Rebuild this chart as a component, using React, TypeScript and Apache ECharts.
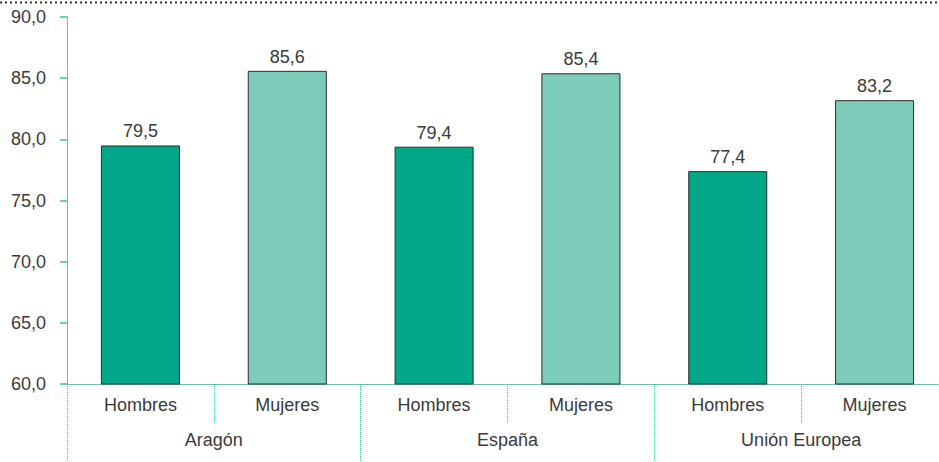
import React, { useEffect, useRef } from "react";
import * as echarts from "echarts";

const groups = ["Aragón", "España", "Unión Europea"];
const sexes = ["Hombres", "Mujeres"];
const hombres = [79.5, 79.4, 77.4];
const mujeres = [85.6, 85.4, 83.2];
const yTicks = { min: 60, max: 90, interval: 5 };

const colorH = "#00a887";
const colorM = "#7dccba";
const teal = "#3dbd9e";
const textColor = "#3a3a3a";
const font = "'Liberation Sans', Arial, sans-serif";
const fs = 18;

export default function App() {
  const ref = useRef<HTMLDivElement>(null);
  useEffect(() => {
    document.body.style.margin = "0";
    const chart = echarts.init(ref.current!, null, { renderer: "svg" });
    const cats: string[] = [];
    const data: any[] = [];
    groups.forEach((g, i) => {
      cats.push(sexes[0]);
      data.push({ value: hombres[i], itemStyle: { color: colorH } });
      cats.push(sexes[1]);
      data.push({ value: mujeres[i], itemStyle: { color: colorM } });
    });
    const fmt = (v: number) => v.toFixed(1).replace(".", ",");
    chart.setOption({
      animation: false,
      grid: { left: 67, top: 17, right: 0, bottom: 78, containLabel: false },
      graphic: [
        {
          type: "line",
          shape: { x1: 0, y1: 2.5, x2: 939, y2: 2.5 },
          style: { stroke: "#333", lineWidth: 2, lineDash: [2, 3] },
        },
      ],
      xAxis: [
        {
          type: "category",
          data: cats,
          position: "bottom",
          axisLine: { show: true, lineStyle: { color: teal, type: "dotted", width: 1 } },
          axisTick: { show: true, interval: 0, length: 40, lineStyle: { color: teal, type: "dotted", width: 1 } },
          axisLabel: { color: textColor, fontSize: fs, fontFamily: font, margin: 12, interval: 0 },
        },
        {
          type: "category",
          data: groups,
          position: "bottom",
          axisLine: { show: false },
          axisTick: { show: true, interval: 0, length: 80, lineStyle: { color: teal, type: "dotted", width: 1 } },
          axisLabel: { color: textColor, fontSize: fs, fontFamily: font, margin: 47, interval: 0 },
        },
      ],
      yAxis: {
        type: "value",
        min: yTicks.min,
        max: yTicks.max,
        interval: yTicks.interval,
        splitLine: { show: false },
        axisLine: { show: true, lineStyle: { color: teal, type: "dotted", width: 1 } },
        axisTick: { show: true, length: 7, lineStyle: { color: teal, width: 1.5 } },
        axisLabel: {
          color: textColor,
          fontSize: fs,
          fontFamily: font,
          margin: 21,
          formatter: (v: number) => fmt(v),
        },
      },
      series: [
        {
          type: "bar",
          xAxisIndex: 0,
          data,
          barWidth: 79,
          itemStyle: { borderColor: "#2b2b2b", borderWidth: 1 },
          label: {
            show: true,
            position: "top",
            distance: 5,
            color: textColor,
            fontSize: fs,
            fontFamily: font,
            formatter: (p: any) => fmt(p.value),
          },
        },
      ],
    });
    return () => chart.dispose();
  }, []);
  return (
    <div style={{ width: 939, height: 462, overflow: "hidden", position: "relative" }}>
      <div ref={ref} style={{ width: 948, height: 462 }} />
    </div>
  );
}
